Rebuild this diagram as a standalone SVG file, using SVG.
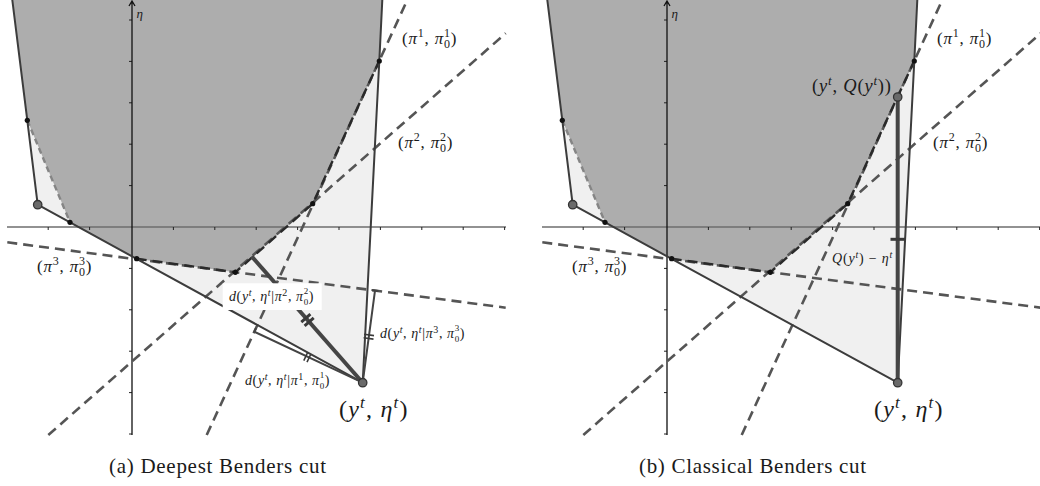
<svg xmlns="http://www.w3.org/2000/svg" width="1040" height="486" viewBox="0 0 1040 486">
<style>
.dark{fill:#adadad}
.light{fill:#f0f0f0}
.edge{fill:none;stroke:#3c3c3c;stroke-width:2;stroke-linejoin:round}
.cut{fill:none;stroke:#555;stroke-width:2.6;stroke-dasharray:10 6}
.bcut{fill:none;stroke:#2a2a2a;stroke-width:2.4;stroke-dasharray:10 6}
.lcut{fill:none;stroke:#858585;stroke-width:2.4;stroke-dasharray:6 4}
.xaxis{stroke:#6e6e6e;stroke-width:1.6}
.yaxis{stroke:#111;stroke-width:1.3;fill:none}
.tick{stroke:#222;stroke-width:1;fill:none}
.dot{fill:#111}
.big{fill:#6a6a6a;stroke:#333;stroke-width:1.3}
.t{font-family:"Liberation Serif","DejaVu Serif",serif;fill:#1a1a1a}
.i{font-style:italic}
.dist{fill:none;stroke:#444;stroke-width:2}
.thick{fill:none;stroke:#454545;stroke-width:4}
.mark{fill:none;stroke:#3a3a3a;stroke-width:1.6}
.mark2{fill:none;stroke:#3a3a3a;stroke-width:3}
</style>
<defs>
<g id="under">
<polygon class="light" points="27.3,120.3 37.7,204.7 362.7,382.7 379.3,61"/>
<polygon class="dark" points="12.3,0 27.3,120.3 70,222.3 136.7,258.7 235.3,272.3 312.7,203.7 379.3,61 382.3,0"/>
<line class="xaxis" x1="7" y1="227" x2="506" y2="227"/>
<path class="tick" d="M48.2 227v3M89.6 227v3M173.4 227v3M214.8 227v3M256.2 227v3M297.6 227v3M339 227v3M380.4 227v3M421.8 227v3M463.2 227v3M504.6 227v3M129 20h3M129 61.4h3M129 102.8h3M129 144.2h3M129 185.6h3M129 268.4h3M129 309.8h3M129 351.2h3M129 392.6h3M129 434h3"/>
<path class="yaxis" d="M132 435V1M129 6L132 1L135 6"/>
<line class="cut" x1="206.7" y1="435" x2="407.3" y2="0"/>
<line class="cut" x1="48.3" y1="435" x2="505.7" y2="33.3"/>
<line class="cut" x1="7.3" y1="242.3" x2="505.7" y2="307.7"/>
<path class="bcut" d="M136.7 258.7L235.3 272.3L312.7 203.7L379.3 61"/>
<path class="lcut" d="M27.3 120.3L70 222.3"/>
<path class="edge" d="M12.3 0L27.3 120.3L37.7 204.7L362.7 382.7L379.3 61L382.3 0"/>
</g>
<g id="over">
<circle class="dot" cx="27.3" cy="120.3" r="2.6"/>
<circle class="dot" cx="70" cy="222.3" r="2.6"/>
<circle class="dot" cx="136.7" cy="258.7" r="2.6"/>
<circle class="dot" cx="235.3" cy="272.3" r="2.6"/>
<circle class="dot" cx="312.7" cy="203.7" r="2.6"/>
<circle class="dot" cx="379.3" cy="61" r="2.6"/>
<circle class="big" cx="37.7" cy="204.7" r="4.2"/>
<circle class="big" cx="362.7" cy="382.7" r="4.2"/>
<text class="t i" x="136.5" y="18" font-size="13">η</text>
<text class="t" x="402" y="44" font-size="17" letter-spacing="0.8">(<tspan class="i">π</tspan><tspan font-size="12" dy="-7">1</tspan><tspan dy="7">, </tspan><tspan class="i">π</tspan><tspan font-size="12" dy="4">0</tspan><tspan font-size="12" dx="-6.8" dy="-11">1</tspan><tspan dy="7">)</tspan></text>
<text class="t" x="398" y="148" font-size="17" letter-spacing="0.8">(<tspan class="i">π</tspan><tspan font-size="12" dy="-7">2</tspan><tspan dy="7">, </tspan><tspan class="i">π</tspan><tspan font-size="12" dy="4">0</tspan><tspan font-size="12" dx="-6.8" dy="-11">2</tspan><tspan dy="7">)</tspan></text>
<text class="t" x="37" y="272" font-size="17" letter-spacing="0.8">(<tspan class="i">π</tspan><tspan font-size="12" dy="-7">3</tspan><tspan dy="7">, </tspan><tspan class="i">π</tspan><tspan font-size="12" dy="4">0</tspan><tspan font-size="12" dx="-6.8" dy="-11">3</tspan><tspan dy="7">)</tspan></text>
<text class="t" x="339" y="417" font-size="24" letter-spacing="1.2">(<tspan class="i">y</tspan><tspan class="i" font-size="17" dy="-9">t</tspan><tspan dy="9">, </tspan><tspan class="i">η</tspan><tspan class="i" font-size="17" dy="-9">t</tspan><tspan dy="9">)</tspan></text>
</g>
</defs>

<g id="panel-a">
<use href="#under"/>
<g id="distances-a">
<line class="thick" x1="362.7" y1="382.7" x2="251.7" y2="256.4"/>
<path class="mark2" d="M310.4 314.2L301.3 322.1M313.7 317.9L304.6 325.8"/>
<path class="dist" d="M362.7 382.7L254.3 331.7L256 328"/>
<path class="mark" d="M307.6 352.5L303.8 360.6M310.9 354L307 362.1"/>
<path class="dist" d="M362.7 382.7L375 290.6M371.5 290.1L378.5 291"/>
<path class="mark" d="M374 335.6L364.1 334.3M373.5 339.1L363.6 337.8"/>
</g>
<use href="#over"/>
<rect x="222.7" y="283.3" width="99" height="26.7" fill="#fff"/>
<text class="t" x="229" y="301" font-size="14" letter-spacing="0.6" fill="#222"><tspan class="i">d</tspan>(<tspan class="i">y</tspan><tspan class="i" font-size="10" dy="-5">t</tspan><tspan dy="5">, </tspan><tspan class="i">η</tspan><tspan class="i" font-size="10" dy="-5">t</tspan><tspan dy="5">|</tspan><tspan class="i">π</tspan><tspan font-size="10" dy="-5">2</tspan><tspan dy="5">, </tspan><tspan class="i">π</tspan><tspan font-size="9" dy="3.5">0</tspan><tspan font-size="9" dx="-5.1" dy="-10.5">2</tspan><tspan dy="7">)</tspan></text>
<text class="t" x="380" y="338" font-size="14" letter-spacing="0.6"><tspan class="i">d</tspan>(<tspan class="i">y</tspan><tspan class="i" font-size="10" dy="-5">t</tspan><tspan dy="5">, </tspan><tspan class="i">η</tspan><tspan class="i" font-size="10" dy="-5">t</tspan><tspan dy="5">|</tspan><tspan class="i">π</tspan><tspan font-size="10" dy="-5">3</tspan><tspan dy="5">, </tspan><tspan class="i">π</tspan><tspan font-size="9" dy="3.5">0</tspan><tspan font-size="9" dx="-5.1" dy="-10.5">3</tspan><tspan dy="7">)</tspan></text>
<text class="t" x="245" y="385" font-size="14" letter-spacing="0.6"><tspan class="i">d</tspan>(<tspan class="i">y</tspan><tspan class="i" font-size="10" dy="-5">t</tspan><tspan dy="5">, </tspan><tspan class="i">η</tspan><tspan class="i" font-size="10" dy="-5">t</tspan><tspan dy="5">|</tspan><tspan class="i">π</tspan><tspan font-size="10" dy="-5">1</tspan><tspan dy="5">, </tspan><tspan class="i">π</tspan><tspan font-size="9" dy="3.5">0</tspan><tspan font-size="9" dx="-5.1" dy="-10.5">1</tspan><tspan dy="7">)</tspan></text>
<text class="t" x="109" y="473" font-size="21" textLength="217" lengthAdjust="spacing">(a) Deepest Benders cut</text>
</g>

<g id="panel-b">
<use href="#under" x="535"/>
<g id="distance-b">
<line class="thick" x1="897.7" y1="97" x2="897.7" y2="382.7"/>
<line class="mark2" x1="890.5" y1="239.3" x2="905" y2="239.3" stroke-width="3.5"/>
</g>
<use href="#over" x="535"/>
<circle class="big" cx="897.7" cy="97" r="4.2"/>
<text class="t" x="812" y="92" font-size="18.5" letter-spacing="0.8">(<tspan class="i">y</tspan><tspan class="i" font-size="13" dy="-7">t</tspan><tspan dy="7">, </tspan><tspan class="i">Q</tspan>(<tspan class="i">y</tspan><tspan class="i" font-size="13" dy="-7">t</tspan><tspan dy="7">))</tspan></text>
<text class="t" x="832" y="263" font-size="14" letter-spacing="0.8" fill="#333"><tspan class="i">Q</tspan>(<tspan class="i">y</tspan><tspan class="i" font-size="10" dy="-5">t</tspan><tspan dy="5">) − </tspan><tspan class="i">η</tspan><tspan class="i" font-size="10" dy="-5">t</tspan></text>
<text class="t" x="639" y="473" font-size="21" textLength="227" lengthAdjust="spacing">(b) Classical Benders cut</text>
</g>
</svg>
